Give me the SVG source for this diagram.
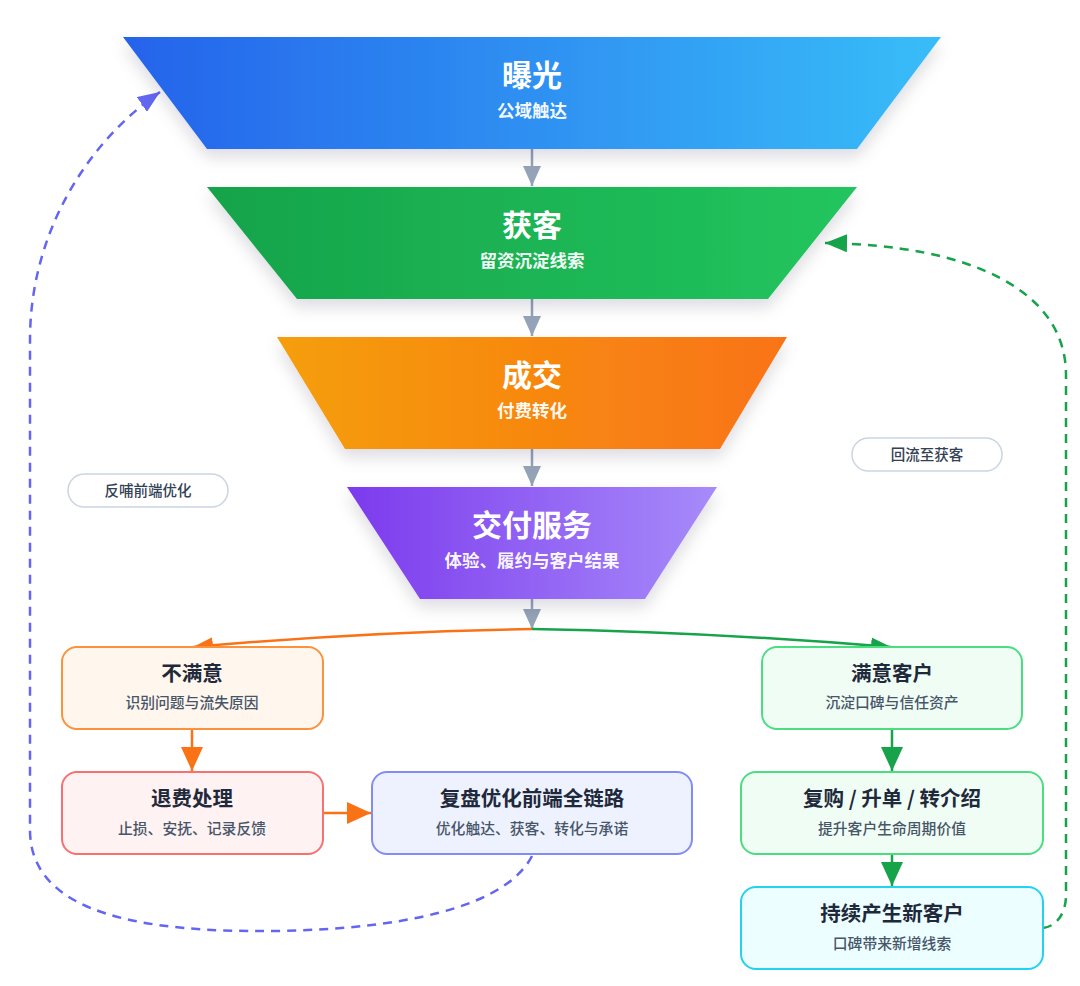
<svg xmlns="http://www.w3.org/2000/svg" width="1080" height="986" viewBox="0 0 1080 986">
<defs>
<linearGradient id="gBlue" x1="0" y1="0" x2="1" y2="0"><stop offset="0" stop-color="#2563eb"/><stop offset="1" stop-color="#38bdf8"/></linearGradient>
<linearGradient id="gGreen" x1="0" y1="0" x2="1" y2="0"><stop offset="0" stop-color="#16a34a"/><stop offset="1" stop-color="#22c55e"/></linearGradient>
<linearGradient id="gOrange" x1="0" y1="0" x2="1" y2="0"><stop offset="0" stop-color="#f59e0b"/><stop offset="1" stop-color="#f97316"/></linearGradient>
<linearGradient id="gPurple" x1="0" y1="0" x2="1" y2="0"><stop offset="0" stop-color="#7c3aed"/><stop offset="1" stop-color="#a78bfa"/></linearGradient>
<filter id="shadow" x="-10%" y="-20%" width="120%" height="160%"><feDropShadow dx="0" dy="8" stdDeviation="8" flood-color="#0f172a" flood-opacity="0.14"/></filter>
<marker id="mGray" markerUnits="userSpaceOnUse" markerWidth="20" markerHeight="18" refX="20" refY="9" orient="auto"><path d="M0,0 L20,9 L0,18 z" fill="#94a3b8"/></marker>
<marker id="mOrange" markerUnits="userSpaceOnUse" markerWidth="24" markerHeight="22" refX="24" refY="11" orient="auto"><path d="M0,0 L24,11 L0,22 z" fill="#f97316"/></marker>
<marker id="mGreen" markerUnits="userSpaceOnUse" markerWidth="24" markerHeight="22" refX="24" refY="11" orient="auto"><path d="M0,0 L24,11 L0,22 z" fill="#16a34a"/></marker>
<marker id="mOrangeS" markerUnits="userSpaceOnUse" markerWidth="20" markerHeight="16" refX="20" refY="8" orient="auto"><path d="M0,0 L20,8 L0,16 z" fill="#f97316"/></marker>
<marker id="mGreenS" markerUnits="userSpaceOnUse" markerWidth="20" markerHeight="16" refX="20" refY="8" orient="auto"><path d="M0,0 L20,8 L0,16 z" fill="#16a34a"/></marker>
<marker id="mPurple" markerUnits="userSpaceOnUse" markerWidth="22" markerHeight="18" refX="22" refY="9" orient="auto"><path d="M0,0 L22,9 L0,18 z" fill="#6366f1"/></marker>
<marker id="mGreenD" markerUnits="userSpaceOnUse" markerWidth="22" markerHeight="18" refX="22" refY="9" orient="auto"><path d="M0,0 L22,9 L0,18 z" fill="#16a34a"/></marker>
</defs>
<style>
text{font-family:"Noto Sans CJK SC","Noto Sans",sans-serif;text-anchor:middle}
.ft{font-size:30px;font-weight:700;fill:#ffffff}
.fs{font-size:17.5px;font-weight:600;fill:#ffffff;fill-opacity:0.95}
.bt{font-size:20.5px;font-weight:700;fill:#1e293b}
.bs{font-size:14.8px;font-weight:500;fill:#475569}
.pill{fill:#ffffff;stroke:#cbd5e1;stroke-width:1.5}
.pt{font-size:14.5px;font-weight:500;fill:#334155}
.conn{fill:none;stroke-width:2.5}
.dash{fill:none;stroke-width:2.5;stroke-dasharray:9 7}
</style>
<rect width="1080" height="986" fill="#ffffff"/>

<g id="connectors">
<line class="conn" x1="532" y1="149" x2="532" y2="186" stroke="#94a3b8" marker-end="url(#mGray)"/>
<line class="conn" x1="532" y1="299" x2="532" y2="336" stroke="#94a3b8" marker-end="url(#mGray)"/>
<line class="conn" x1="532" y1="449" x2="532" y2="486" stroke="#94a3b8" marker-end="url(#mGray)"/>
<line class="conn" x1="532" y1="599" x2="532" y2="629" stroke="#94a3b8" marker-end="url(#mGray)"/>
<path class="conn" d="M532,629 Q360,632 193,647" stroke="#f97316" marker-end="url(#mOrangeS)"/>
<path class="conn" d="M532,629 Q710,632 891,647" stroke="#16a34a" marker-end="url(#mGreenS)"/>
<line class="conn" x1="192" y1="729" x2="192" y2="771" stroke="#f97316" marker-end="url(#mOrange)"/>
<line class="conn" x1="323" y1="813" x2="371" y2="813" stroke="#f97316" marker-end="url(#mOrange)"/>
<line class="conn" x1="892" y1="729" x2="892" y2="771" stroke="#16a34a" marker-end="url(#mGreen)"/>
<line class="conn" x1="892" y1="854" x2="892" y2="886" stroke="#16a34a" marker-end="url(#mGreen)"/>
<path class="dash" d="M532,856 C500,918 360,932 250,931 C120,930 30,905 30,830 L30,340 C30,230 90,140 160,92" stroke="#6366f1" marker-end="url(#mPurple)"/>
<path class="dash" d="M1043,928 C1058,926 1066,912 1066,895 L1066,375 C1066,290 970,245 825,243" stroke="#16a34a" marker-end="url(#mGreenD)"/>
</g>

<g id="stage-exposure">
<polygon points="123,37 941,37 857,149 207,149" fill="url(#gBlue)" filter="url(#shadow)"/>
<text class="ft" x="532" y="86">曝光</text>
<text class="fs" x="532" y="117">公域触达</text>
</g>
<g id="stage-acquire">
<polygon points="207,187 857,187 768,299 297,299" fill="url(#gGreen)" filter="url(#shadow)"/>
<text class="ft" x="532" y="236">获客</text>
<text class="fs" x="532" y="267">留资沉淀线索</text>
</g>
<g id="stage-deal">
<polygon points="277,337 787,337 720,449 345,449" fill="url(#gOrange)" filter="url(#shadow)"/>
<text class="ft" x="532" y="386">成交</text>
<text class="fs" x="532" y="417">付费转化</text>
</g>
<g id="stage-delivery">
<polygon points="347,487 717,487 645,599 420,599" fill="url(#gPurple)" filter="url(#shadow)"/>
<text class="ft" x="532" y="536">交付服务</text>
<text class="fs" x="532" y="567">体验、履约与客户结果</text>
</g>

<g id="node-unsatisfied">
<rect x="62" y="647" width="261" height="82" rx="15" fill="#fff7ed" stroke="#fb923c" stroke-width="2"/>
<text class="bt" x="192" y="681">不满意</text>
<text class="bs" x="192" y="708">识别问题与流失原因</text>
</g>
<g id="node-refund">
<rect x="62" y="772" width="261" height="82" rx="15" fill="#fef2f2" stroke="#f87171" stroke-width="2"/>
<text class="bt" x="192" y="806">退费处理</text>
<text class="bs" x="192" y="834">止损、安抚、记录反馈</text>
</g>
<g id="node-review">
<rect x="372" y="772" width="320" height="82" rx="15" fill="#eef2ff" stroke="#818cf8" stroke-width="2"/>
<text class="bt" x="532" y="806">复盘优化前端全链路</text>
<text class="bs" x="532" y="834">优化触达、获客、转化与承诺</text>
</g>
<g id="node-satisfied">
<rect x="762" y="647" width="260" height="82" rx="15" fill="#f0fdf4" stroke="#4ade80" stroke-width="2"/>
<text class="bt" x="892" y="681">满意客户</text>
<text class="bs" x="892" y="708">沉淀口碑与信任资产</text>
</g>
<g id="node-repurchase">
<rect x="741" y="772" width="302" height="82" rx="15" fill="#f0fdf4" stroke="#4ade80" stroke-width="2"/>
<text class="bt" x="892" y="806">复购 / 升单 / 转介绍</text>
<text class="bs" x="892" y="834">提升客户生命周期价值</text>
</g>
<g id="node-newcustomers">
<rect x="741" y="887" width="302" height="82" rx="15" fill="#ecfeff" stroke="#22d3ee" stroke-width="2"/>
<text class="bt" x="892" y="921">持续产生新客户</text>
<text class="bs" x="892" y="949">口碑带来新增线索</text>
</g>

<g id="label-feedback">
<rect class="pill" x="68" y="474" width="160" height="33" rx="16.5"/>
<text class="pt" x="148" y="496">反哺前端优化</text>
</g>
<g id="label-return">
<rect class="pill" x="852" y="438" width="150" height="33" rx="16.5"/>
<text class="pt" x="927" y="460">回流至获客</text>
</g>
</svg>
